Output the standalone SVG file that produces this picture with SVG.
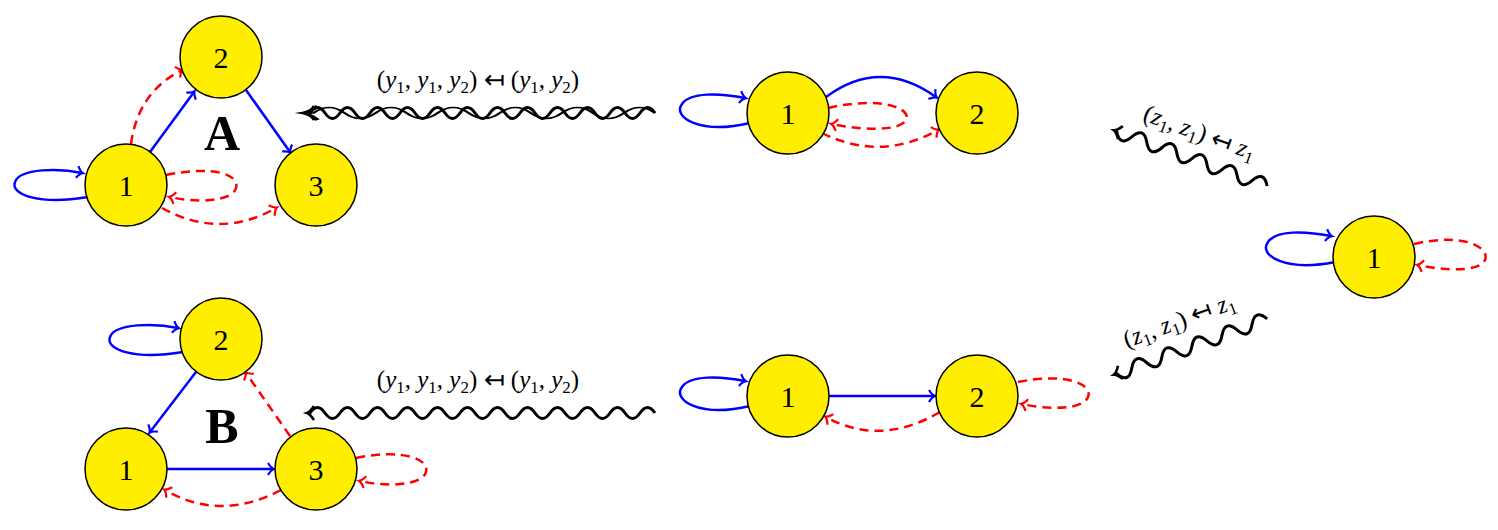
<svg xmlns="http://www.w3.org/2000/svg" width="1498" height="530" viewBox="0 0 1498 530">
<style>
.n{fill:#ffee00;stroke:#000;stroke-width:1.5}
.t{font-family:"Liberation Serif",serif;font-size:30px;text-anchor:middle;dominant-baseline:central}
.b{stroke:#0000ff;stroke-width:2.5;fill:none;marker-end:url(#ab)}
.r{stroke:#ff0000;stroke-width:2.5;fill:none;stroke-dasharray:9,6;marker-end:url(#ar)}
.w{stroke:#000;stroke-width:3;fill:none;marker-end:url(#ak)}
.l{font-family:"Liberation Serif",serif;font-size:25px;text-anchor:middle}
.i{font-style:italic}
.big{font-family:"Liberation Serif",serif;font-size:50px;font-weight:bold;text-anchor:middle}
</style>
<defs>
<marker id="ab" viewBox="-10 -10 20 20" markerWidth="20" markerHeight="20" markerUnits="userSpaceOnUse" orient="auto"><path d="M-5,-6 Q-2,-1 1,0 Q-2,1 -5,6" fill="none" stroke="#0000ff" stroke-width="2.2"/></marker>
<marker id="ar" viewBox="-10 -10 20 20" markerWidth="20" markerHeight="20" markerUnits="userSpaceOnUse" orient="auto"><path d="M-5,-6 Q-2,-1 1,0 Q-2,1 -5,6" fill="none" stroke="#ff0000" stroke-width="2.2"/></marker>
<marker id="ak" viewBox="-10 -10 20 20" markerWidth="20" markerHeight="20" markerUnits="userSpaceOnUse" orient="auto"><path d="M-6,-7 Q-2,-1 1,0 Q-2,1 -6,7" fill="none" stroke="#000" stroke-width="2.6"/></marker>
<path id="wv" d="M84,0 q-7.5,-11 -15,0 t-15,0 t-15,0 t-15,0 t-15,0 t-15,0 t-15,0 t-15,0 t-15,0 t-15,0 t-15,0 l-4,0"/>
</defs>
<g id="connectors">
<!-- A -->
<path class="b" d="M88,197 C40,205 10,195 15,182 C20,168 60,168 82,173"/>
<path class="r" d="M166,175 C215,165 240,175 236,188 C232,202 195,203 170,197"/>
<path class="r" d="M162,208 Q220,240 276,208"/>
<path class="r" d="M131,144 Q138,92 182,70"/>
<path class="b" d="M150,152 L194,92"/>
<path class="b" d="M246,90 L290,152"/>
<!-- top middle -->
<path class="b" d="M750,123 C700,135 672,117 682,104 C690,92 720,93 745,98"/>
<path class="b" d="M826,97 Q880,57 936,97"/>
<path class="r" d="M828,108 C880,96 912,108 906,120 C900,132 860,130 832,124"/>
<path class="r" d="M822,133 Q880,162 938,130"/>
<!-- right -->
<path class="b" d="M1335,262 C1285,272 1258,255 1268,242 C1276,230 1305,231 1331,236"/>
<path class="r" d="M1414,244 C1465,232 1490,248 1485,260 C1480,272 1445,271 1418,265"/>
<!-- B -->
<path class="b" d="M183,352 C135,360 105,350 110,337 C115,323 155,323 178,328"/>
<path class="b" d="M196,372 L150,432"/>
<path class="r" d="M290,436 L246,373"/>
<path class="b" d="M167,469 L273,469"/>
<path class="r" d="M356,458 C405,448 430,460 426,472 C422,486 385,487 360,481"/>
<path class="r" d="M281,490 Q220,522 165,490"/>
<!-- bottom middle -->
<path class="b" d="M750,406 C700,418 672,400 682,387 C690,375 720,376 745,381"/>
<path class="b" d="M829,396 L934,396"/>
<path class="r" d="M1018,382 C1068,372 1093,385 1088,397 C1083,410 1048,410 1022,404"/>
<path class="r" d="M940,412 Q880,447 826,417"/>
<!-- squiggles -->
<use href="#wv" class="w" transform="translate(655,113) scale(2.07,1) translate(-84,0)" style="stroke-width:1.5"/>
</g>
<g id="squiggles">
<path class="w" d="M655,113 q-7.5,-11 -15,0 t-15,0 t-15,0 t-15,0 t-15,0 t-15,0 t-15,0 t-15,0 t-15,0 t-15,0 t-15,0 t-15,0 t-15,0 t-15,0 t-15,0 t-15,0 t-15,0 t-15,0 t-15,0 t-15,0 t-15,0 t-15,0 t-15,0 l-2,0"/>
<path class="w" d="M655,413 q-7.5,-11 -15,0 t-15,0 t-15,0 t-15,0 t-15,0 t-15,0 t-15,0 t-15,0 t-15,0 t-15,0 t-15,0 t-15,0 t-15,0 t-15,0 t-15,0 t-15,0 t-15,0 t-15,0 t-15,0 t-15,0 t-15,0 t-15,0 t-15,0 l-2,0"/>
<g transform="translate(1190,158) rotate(20)">
<path class="w" d="M82,0 q-8,-14 -16,0 t-16,0 t-16,0 t-16,0 t-16,0 t-16,0 t-16,0 t-16,0 t-16,0 t-16,0 l-2,0"/>
</g>
<g transform="translate(1190,347) rotate(-20)">
<path class="w" d="M82,0 q-8,-14 -16,0 t-16,0 t-16,0 t-16,0 t-16,0 t-16,0 t-16,0 t-16,0 t-16,0 t-16,0 l-2,0"/>
</g>
</g>
<g id="labels">
<text class="l" x="478" y="88">(<tspan class="i">y</tspan><tspan font-size="17" dy="5">1</tspan><tspan dy="-5">, </tspan><tspan class="i">y</tspan><tspan font-size="17" dy="5">1</tspan><tspan dy="-5">, </tspan><tspan class="i">y</tspan><tspan font-size="17" dy="5">2</tspan><tspan dy="-5">) ↤ (</tspan><tspan class="i">y</tspan><tspan font-size="17" dy="5">1</tspan><tspan dy="-5">, </tspan><tspan class="i">y</tspan><tspan font-size="17" dy="5">2</tspan><tspan dy="-5">)</tspan></text>
<text class="l" x="478" y="388">(<tspan class="i">y</tspan><tspan font-size="17" dy="5">1</tspan><tspan dy="-5">, </tspan><tspan class="i">y</tspan><tspan font-size="17" dy="5">1</tspan><tspan dy="-5">, </tspan><tspan class="i">y</tspan><tspan font-size="17" dy="5">2</tspan><tspan dy="-5">) ↤ (</tspan><tspan class="i">y</tspan><tspan font-size="17" dy="5">1</tspan><tspan dy="-5">, </tspan><tspan class="i">y</tspan><tspan font-size="17" dy="5">2</tspan><tspan dy="-5">)</tspan></text>
<text class="l" transform="translate(1197,140) rotate(20)">(<tspan class="i">z</tspan><tspan font-size="17" dy="5">1</tspan><tspan dy="-5">, </tspan><tspan class="i">z</tspan><tspan font-size="17" dy="5">1</tspan><tspan dy="-5">) ↤ </tspan><tspan class="i">z</tspan><tspan font-size="17" dy="5">1</tspan></text>
<text class="l" transform="translate(1182,328) rotate(-20)">(<tspan class="i">z</tspan><tspan font-size="17" dy="5">1</tspan><tspan dy="-5">, </tspan><tspan class="i">z</tspan><tspan font-size="17" dy="5">1</tspan><tspan dy="-5">) ↤ </tspan><tspan class="i">z</tspan><tspan font-size="17" dy="5">1</tspan></text>
<text class="big" x="222" y="150">A</text>
<text class="big" x="222" y="443">B</text>
</g>
<g id="nA1"><circle class="n" cx="126" cy="185" r="41"/><text class="t" x="126" y="185">1</text></g>
<g id="nA2"><circle class="n" cx="221" cy="57" r="41"/><text class="t" x="221" y="57">2</text></g>
<g id="nA3"><circle class="n" cx="316" cy="185" r="41"/><text class="t" x="316" y="185">3</text></g>
<g id="nT1"><circle class="n" cx="788" cy="113" r="41"/><text class="t" x="788" y="113">1</text></g>
<g id="nT2"><circle class="n" cx="977" cy="113" r="41"/><text class="t" x="977" y="113">2</text></g>
<g id="nR1"><circle class="n" cx="1374" cy="257" r="41"/><text class="t" x="1374" y="257">1</text></g>
<g id="nB2"><circle class="n" cx="221" cy="339" r="41"/><text class="t" x="221" y="339">2</text></g>
<g id="nB1"><circle class="n" cx="126" cy="469" r="41"/><text class="t" x="126" y="469">1</text></g>
<g id="nB3"><circle class="n" cx="316" cy="469" r="41"/><text class="t" x="316" y="469">3</text></g>
<g id="nM1"><circle class="n" cx="788" cy="396" r="41"/><text class="t" x="788" y="396">1</text></g>
<g id="nM2"><circle class="n" cx="977" cy="396" r="41"/><text class="t" x="977" y="396">2</text></g>
</svg>
